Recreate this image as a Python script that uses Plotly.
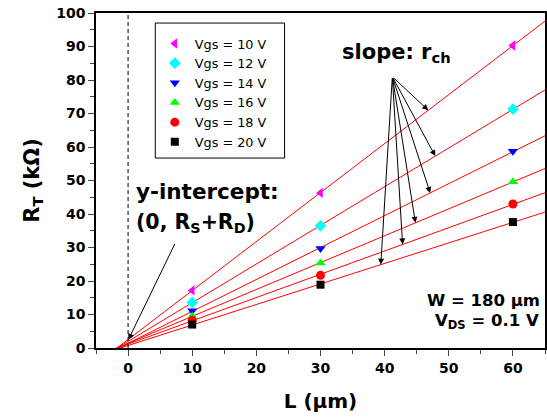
import numpy as np
import plotly.graph_objects as go

# ---------------- data ----------------
L_um = [10, 30, 60]
vgs_labels = ["Vgs = 10 V", "Vgs = 12 V", "Vgs = 14 V", "Vgs = 16 V", "Vgs = 18 V", "Vgs = 20 V"]
RT_vgs10 = [17.2, 46.3, 90.3]
RT_vgs12 = [13.6, 36.5, 71.3]
RT_vgs14 = [11.1, 29.7, 58.7]
RT_vgs16 = [9.5, 25.4, 49.6]
RT_vgs18 = [8.3, 21.7, 43.0]
RT_vgs20 = [7.0, 18.9, 37.6]
series = [RT_vgs10, RT_vgs12, RT_vgs14, RT_vgs16, RT_vgs18, RT_vgs20]

colors = ["#ff00ff", "#00ffff", "#0000ff", "#00ff00", "#ff0000", "#000000"]
symbols = ["triangle-left", "diamond", "triangle-down", "triangle-up", "circle", "square"]
sizes = [9, 9, 9, 9, 9, 8]

x_ticks = [0, 10, 20, 30, 40, 50, 60]
y_ticks = [0, 10, 20, 30, 40, 50, 60, 70, 80, 90, 100]

# x positions on each fit line where the slope arrows point
arrow_x = [46.8, 47.9, 47.1, 44.8, 42.8, 39.4]

FONT = "DejaVu Sans, Liberation Sans, Arial, sans-serif"

fig = go.Figure()

# linear fits
fits = [np.polyfit(L_um, s, 1) for s in series]
xl = np.array([-5.0, 65.0])
for (m, b) in fits:
    fig.add_trace(go.Scatter(x=xl, y=m * xl + b, mode="lines",
                             line=dict(color="red", width=1),
                             showlegend=False, hoverinfo="skip"))

# data markers
for lab, s, c, sym, sz in zip(vgs_labels, series, colors, symbols, sizes):
    fig.add_trace(go.Scatter(x=L_um, y=s, mode="markers", name=lab,
                             marker=dict(color=c, symbol=sym, size=sz,
                                         line=dict(width=0))))

# dashed line at x = 0
fig.add_shape(type="line", xref="x", yref="y", x0=0, x1=0, y0=0, y1=100,
              line=dict(color="black", width=1, dash="4px,3px"), layer="above")
# legend frame
fig.add_shape(type="rect", xref="paper", yref="paper", x0=0.132, x1=0.42,
              y0=0.567, y1=0.970, line=dict(color="black", width=1),
              fillcolor="white", layer="above")

ann = []
# slope arrows
sx, sy = 41.2, 81.0
for (m, b), xa in zip(fits, arrow_x):
    ann.append(dict(x=xa, y=m * xa + b, ax=sx, ay=sy, xref="x", yref="y",
                    axref="x", ayref="y", showarrow=True, arrowhead=2,
                    arrowsize=1.2, arrowwidth=1, arrowcolor="black", text=""))
ann.append(dict(x=41.8, y=88.2, xref="x", yref="y", showarrow=False,
                text="slope: r<sub>ch</sub>",
                font=dict(family=FONT, size=21, color="black", weight="bold")))
# y-intercept
ann.append(dict(x=0.05, y=2.5, ax=7.4, ay=31.5, xref="x", yref="y",
                axref="x", ayref="y", showarrow=True, arrowhead=2,
                arrowsize=1.2, arrowwidth=1, arrowcolor="black", text=""))
ann.append(dict(x=1.0, y=46.7, xref="x", yref="y", xanchor="left", showarrow=False,
                text="y-intercept:",
                font=dict(family=FONT, size=21.5, color="black", weight="bold")))
ann.append(dict(x=1.0, y=37.2, xref="x", yref="y", xanchor="left", showarrow=False,
                text="(0, R<sub>S</sub>+R<sub>D</sub>)",
                font=dict(family=FONT, size=20.5, color="black", weight="bold")))
# W and VDS
ann.append(dict(x=0.993, y=14.3, xref="paper", yref="y", xanchor="right", showarrow=False,
                text="W = 180 µm",
                font=dict(family=FONT, size=16.5, color="black", weight="bold")))
ann.append(dict(x=0.99, y=7.8, xref="paper", yref="y", xanchor="right", showarrow=False,
                text="V<sub>DS</sub> = 0.1 V",
                font=dict(family=FONT, size=16.5, color="black", weight="bold")))

fig.update_layout(
    width=547, height=418,
    margin=dict(l=96, r=0, t=13, b=70),
    paper_bgcolor="white", plot_bgcolor="white",
    font=dict(family=FONT, color="black"),
    annotations=ann,
    legend=dict(x=0.131, y=0.953, xanchor="left", yanchor="top",
                bgcolor="rgba(0,0,0,0)", borderwidth=0,
                font=dict(family=FONT, size=12.8, color="black")),
    xaxis=dict(range=[-5, 65], tickvals=x_ticks, ticks="outside", ticklen=6,
               tickwidth=1, minor=dict(dtick=5, ticks="outside", ticklen=4, tickwidth=1),
               showline=True, linecolor="black", linewidth=1.5, mirror=True,
               showgrid=False, zeroline=False,
               tickfont=dict(family=FONT, size=14, color="black", weight="bold"),
               title=dict(text="L (µm)", standoff=19,
                          font=dict(family=FONT, size=20, color="black", weight="bold"))),
    yaxis=dict(range=[0, 100], tickvals=y_ticks, ticks="outside", ticklen=6,
               tickwidth=1, minor=dict(dtick=5, ticks="outside", ticklen=4, tickwidth=1),
               showline=True, linecolor="black", linewidth=1.5, mirror=True,
               showgrid=False, zeroline=False,
               tickfont=dict(family=FONT, size=14, color="black", weight="bold"),
               title=dict(text="R<sub>T</sub> (kΩ)", standoff=11,
                          font=dict(family=FONT, size=21, color="black", weight="bold"))),
)

fig.write_html("out.html")
